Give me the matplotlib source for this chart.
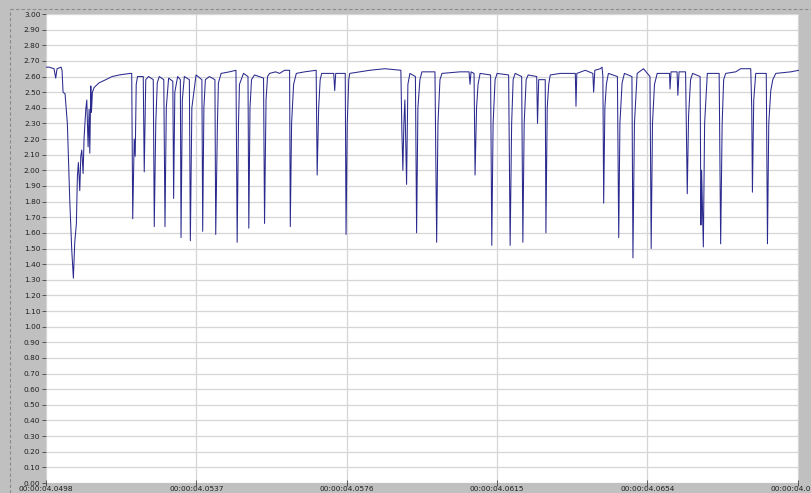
import matplotlib
matplotlib.use("Agg")
import matplotlib.pyplot as plt
from matplotlib.lines import Line2D
from matplotlib.ticker import FixedLocator, FuncFormatter

# Time in microseconds after 00:00:04, signal value in volts
time_us = [
    49780, 49878, 50008, 50052, 50086, 50190, 50216, 50242, 50294, 50354,
    50416, 50468, 50510, 50546, 50588, 50614, 50640, 50676, 50702, 50728,
    50762, 50788, 50832, 50858, 50892, 50918, 50936, 50962, 50978, 51004,
    51048, 51178, 51352, 51516, 51698, 51984,
    52023, 52049, 52088, 52114, 52140, 52174, 52322, 52348, 52387, 52460,
    52582, 52608, 52647, 52686, 52738, 52855, 52886, 52920, 52980, 53089,
    53110, 53141, 53214, 53284, 53302, 53336, 53388, 53518, 53544, 53583,
    53692, 53843, 53864, 53895, 53934, 54038, 54181, 54202, 54246, 54272,
    54342, 54558, 54727, 54758, 54792, 54818, 54922, 55039, 55060, 55091,
    55130, 55208, 55442, 55468, 55507, 55546, 55598, 55754, 55858, 55988,
    56118, 56136, 56170, 56222, 56292, 56508, 56807, 56833, 56872, 56911,
    56950, 57262, 57288, 57314, 57561, 57582, 57613, 57652, 57678, 58198,
    58588, 59004, 59030, 59056, 59082, 59108, 59152, 59186, 59238, 59381,
    59412, 59446, 59498, 59550, 59888, 59932, 59966, 60018, 60070, 60538,
    60772, 60798, 60824, 60902, 60928, 60967, 61006, 61058, 61331, 61362,
    61396, 61448, 61500, 61799, 61838, 61877, 61916, 61968, 62137, 62168,
    62202, 62254, 62306, 62527, 62548, 62579, 62748, 62766, 62800, 62839,
    62878, 63138, 63528, 63546, 63567, 63788, 63983, 64004, 64035, 64178,
    64222, 64243, 64264, 64295, 64334, 64386, 64620, 64654, 64685, 64742,
    64802, 64997, 65023, 65062, 65132, 65296, 65465, 65496, 65530, 65582,
    65652, 65972, 65985, 66011, 66167, 66188, 66219, 66388, 66432, 66466,
    66518, 66570, 66765, 66786, 66804, 66849, 66882, 66952, 67259, 67298,
    67337, 67376, 67428, 67688, 67818, 68078, 68104, 68122, 68156, 68208,
    68481, 68512, 68546, 68598, 68650, 68728, 69118, 69326,
]
voltage = [
    2.66, 2.66, 2.65, 2.59, 2.65, 2.66, 2.64, 2.50, 2.49, 2.30,
    1.81, 1.49, 1.31, 1.54, 1.66, 1.96, 2.05, 1.87, 2.09, 2.13,
    1.98, 2.21, 2.39, 2.45, 2.15, 2.39, 2.11, 2.54, 2.37, 2.50,
    2.53, 2.56, 2.58, 2.60, 2.61, 2.62,
    2.62, 1.69, 2.20, 2.09, 2.55, 2.60, 2.60, 1.99, 2.58, 2.60,
    2.58, 1.64, 2.30, 2.56, 2.60, 2.58, 1.64, 2.40, 2.59, 2.57,
    1.82, 2.50, 2.60, 2.58, 1.57, 2.45, 2.60, 2.58, 1.55, 2.40,
    2.61, 2.58, 1.61, 2.40, 2.58, 2.60, 2.58, 1.59, 2.30, 2.56,
    2.62, 2.63, 2.64, 1.54, 2.30, 2.55, 2.62, 2.60, 1.63, 2.40,
    2.58, 2.61, 2.59, 1.66, 2.45, 2.60, 2.62, 2.63, 2.62, 2.64,
    2.64, 1.64, 2.30, 2.55, 2.62, 2.63, 2.64, 1.97, 2.40, 2.58,
    2.62, 2.62, 2.51, 2.62, 2.62, 1.59, 2.30, 2.58, 2.62, 2.64,
    2.65, 2.64, 2.25, 2.00, 2.30, 2.45, 1.91, 2.55, 2.62, 2.60,
    1.60, 2.40, 2.58, 2.63, 2.63, 1.54, 2.30, 2.58, 2.62, 2.63,
    2.63, 2.55, 2.63, 2.62, 1.97, 2.40, 2.55, 2.62, 2.61, 1.52,
    2.30, 2.58, 2.62, 2.61, 1.52, 2.30, 2.58, 2.62, 2.60, 1.54,
    2.30, 2.58, 2.61, 2.60, 2.30, 2.58, 2.58, 1.60, 2.40, 2.55,
    2.61, 2.62, 2.62, 2.41, 2.62, 2.64, 2.62, 2.50, 2.64, 2.65,
    2.66, 2.60, 1.79, 2.40, 2.55, 2.62, 2.60, 1.57, 2.30, 2.56,
    2.62, 2.60, 1.44, 2.30, 2.62, 2.65, 2.60, 1.50, 2.30, 2.55,
    2.62, 2.62, 2.52, 2.63, 2.63, 2.48, 2.63, 2.63, 1.85, 2.35,
    2.58, 2.62, 2.60, 1.65, 2.00, 1.51, 2.30, 2.62, 2.62, 1.53,
    2.30, 2.58, 2.62, 2.63, 2.65, 2.65, 2.40, 1.86, 2.45, 2.62,
    2.62, 1.53, 2.30, 2.51, 2.58, 2.62, 2.63, 2.64,
]

x_ticks = [49800, 53700, 57600, 61500, 65400, 69300]
y_ticks = [i / 10 for i in range(31)]

W, H = 811, 493
fig = plt.figure(figsize=(W / 100, H / 100), dpi=100, facecolor="#c0c0c0")

# dashed panel borders on the left and top
fig.add_artist(Line2D([10 / W, 10 / W], [0, 1 - 9 / H], transform=fig.transFigure,
                      color="#8a8a8a", lw=0.8, ls=(0, (3, 2))))
fig.add_artist(Line2D([10 / W, 1], [1 - 9 / H, 1 - 9 / H], transform=fig.transFigure,
                      color="#8a8a8a", lw=0.8, ls=(0, (3, 2))))

ax = fig.add_axes([46 / W, 10 / H, 753 / W, 469 / H])
ax.set_facecolor("white")
ax.plot(time_us, voltage, color="#2a2a8e", lw=0.75, antialiased=True)

ax.set_xlim(49800, 69330)
ax.set_ylim(0, 3.0)

ax.yaxis.set_major_locator(FixedLocator(y_ticks))
ax.yaxis.set_major_formatter(FuncFormatter(lambda v, p: f"{v:.2f}"))
ax.xaxis.set_major_locator(FixedLocator(x_ticks))
ax.xaxis.set_major_formatter(FuncFormatter(lambda v, p: f"00:00:04.{v / 100:04.0f}"))

ax.grid(True, color="#d6d6d6", lw=0.9)
ax.set_axisbelow(True)
for s in ax.spines.values():
    s.set_visible(False)

ax.tick_params(axis="y", direction="out", length=3, width=0.6, color="#404040",
               labelsize=5.3, labelcolor="#202020", pad=1)
ax.tick_params(axis="x", direction="inout", length=4, width=0.6, color="#404040",
               labelsize=5.3, labelcolor="#202020", pad=0)

fig.savefig("out.png", dpi=100, facecolor=fig.get_facecolor())
